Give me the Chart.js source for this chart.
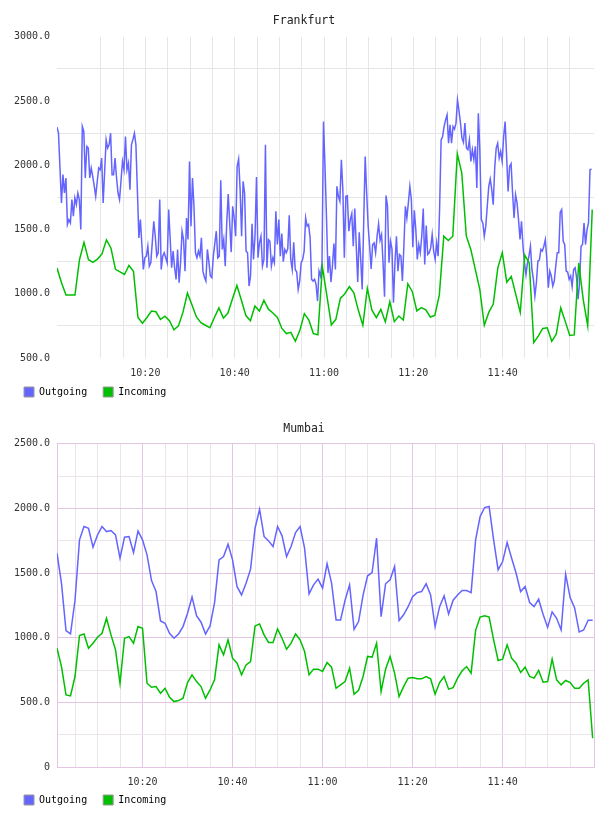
<!DOCTYPE html>
<html lang="en">
<head>
<meta charset="UTF-8">
<title>Traffic</title>
<style>
  body { margin: 0; background: #fff; }
  .box { position: absolute; left: 0; width: 608px; height: 416px; }
</style>
</head>
<body>
<div class="box" style="top:0"><canvas id="frankfurt" width="608" height="416"></canvas></div>
<div class="box" style="top:408px"><canvas id="mumbai" width="608" height="416"></canvas></div>
<script src="https://cdn.jsdelivr.net/npm/chart.js@4/dist/chart.umd.min.js"></script>
<script>
// times are minutes after 10:00
const frankfurtStart = 0.22;
const frankfurtEnd = 120.45;
const frankfurtOutStep = 1 / 3;   // 20 s samples
const frankfurtInStep = 1.007;

const frankfurtOut = [
  2297, 2250, 1980, 1707, 1927, 1784, 1901, 1539, 1577, 1551,
  1733, 1603, 1746, 1694, 1784, 1733, 1500, 2302, 2263, 1901,
  2147, 2134, 1901, 1978, 1914, 1840, 1758, 1870, 1978, 1965,
  2056, 1707, 1950, 2198, 2134, 2159, 2250, 1927, 1927, 2056,
  1901, 1784, 1733, 1880, 2030, 1965, 2224, 1965, 2017, 1810,
  2159, 2200, 2250, 2159, 1800, 1435, 1577, 1380, 1189, 1280,
  1293, 1370, 1215, 1241, 1400, 1564, 1448, 1293, 1319, 1733,
  1189, 1293, 1319, 1280, 1241, 1655, 1430, 1202, 1332, 1202,
  1112, 1345, 1086, 1241, 1487, 1422, 1176, 1590, 1422, 2030,

  1526, 1901, 1681, 1319, 1280, 1332, 1293, 1435, 1176, 1130,
  1099, 1345, 1250, 1138, 1125, 1293, 1390, 1487, 1280, 1293,
  1883, 1345, 1422, 1215, 1551, 1777, 1551, 1324, 1681, 1590,
  1448, 1991, 2048, 1810, 1448, 1875, 1784, 1332, 1319, 1060,
  1138, 1544, 1267, 1448, 1909, 1280, 1396, 1448, 1215, 1267,
  2159, 1202, 1422, 1409, 1215, 1280, 1241, 1642, 1383, 1577,
  1293, 1469, 1249, 1345, 1319, 1350, 1611, 1267, 1189, 1401,
  1189, 1169, 1034, 1099, 1241, 1267, 1332, 1590, 1526, 1539,
  1435, 1112, 1099, 1112, 1073, 943, 1176, 1138, 1241, 2340,

  1990, 1600, 1163, 1293, 1091, 1215, 1391, 1189, 1836, 1758,
  1720, 2043, 1810, 1280, 1758, 1764, 1487, 1577, 1624, 1370,
  1663, 1370, 1091, 1479, 1267, 1034, 1551, 2069, 1784, 1526,
  1370, 1194, 1383, 1396, 1319, 1448, 1544, 1417, 1461, 1241,
  977, 1764, 1681, 1241, 1409, 1350, 931, 1241, 1448, 1176,
  1306, 1293, 1099, 1370, 1681, 1590, 1707, 1836, 1733, 1363,
  1650, 1500, 1267, 1383, 1319, 1448, 1663, 1228, 1531, 1306,
  1319, 1357, 1461, 1332, 1267, 1396, 1293, 1668, 2198, 2224,
  2302, 2353, 2392, 2172, 2315, 2172, 2302, 2281, 2328, 2509,

  2426, 2328, 2211, 2178, 2328, 2134, 2121, 2198, 2030, 2121,
  2043, 2147, 1823, 2405, 2121, 1577, 1551, 1448, 1526, 1681,
  1836, 1893, 1810, 1694, 1978, 2134, 2172, 2056, 2108, 2030,
  2224, 2340, 2069, 1797, 1991, 2012, 1784, 1590, 1771, 1707,
  1577, 1422, 1564, 1370, 1241, 1150, 1241, 1293, 1370, 1189,
  1112, 983, 1086, 1254, 1262, 1345, 1332, 1370, 1422, 1267,
  1047, 1176, 1138, 1060, 1099, 1215, 1319, 1319, 1634, 1655,
  1409, 1383, 1176, 1169, 1112, 1138, 1055, 1189, 1202, 1125,
  957, 1086, 1370, 1383, 1551, 1383, 1500, 1551, 1965, 1971
];

const frankfurtIn = [
  1200, 1085, 990, 990, 990, 1265, 1400, 1265, 1245, 1270,
  1310, 1420, 1355, 1190, 1170, 1150, 1220, 1175, 815, 770,
  815, 865, 860, 800, 825, 790, 720, 750, 855, 1005,
  915, 820, 775, 755, 735, 815, 890, 810, 850, 960,
  1065, 950, 830, 790, 905, 865, 950, 880, 850, 815,
  730, 690, 700, 630, 715, 845, 795, 690, 680, 1210,
  985, 757, 801, 964, 1000, 1055, 1008, 871, 755, 1042,
  874, 814, 879, 781, 938, 783, 827, 796, 1078, 1016,
  866, 892, 874, 819, 832, 990, 1448, 1414, 1448, 2090,
  1940, 1450, 1345, 1190, 1035, 755, 855, 920, 1200, 1320,
  1090, 1135, 995, 855, 1300, 1240, 620, 670, 730, 735,
  630, 685, 890, 785, 675, 680, 1240, 955, 750, 1655
];

const mumbaiStart = 1.0;
const mumbaiEnd = 120.3;
const mumbaiStep = 1;

const mumbaiOut = [
  1654, 1420, 1055, 1029, 1290, 1757, 1860, 1847, 1700, 1795,
  1860, 1821, 1829, 1795, 1615, 1778, 1783, 1659, 1826, 1757,
  1641, 1442, 1357, 1130, 1112, 1034, 996, 1029, 1086, 1190,
  1315, 1170, 1120, 1029, 1091, 1270, 1602, 1628, 1723, 1602,
  1395, 1331, 1421, 1530, 1847, 1994, 1783, 1749, 1705, 1860,
  1788, 1628, 1705, 1814, 1860, 1693, 1340, 1409, 1453, 1384,
  1572, 1423, 1138, 1138, 1290, 1409, 1065, 1125, 1330, 1479,
  1504, 1770, 1163, 1417, 1448, 1551, 1133, 1177, 1240, 1318,
  1349, 1357, 1417, 1331, 1086, 1240, 1324, 1184, 1290, 1331,
  1365, 1365, 1349, 1757, 1937, 2007, 2015, 1757, 1525, 1589,
  1736, 1615, 1499, 1357, 1396, 1272, 1241, 1298, 1180, 1080,
  1200, 1150, 1060, 1490, 1310, 1230, 1045, 1060, 1135, 1135
];

const mumbaiIn = [
  919, 777, 558, 550, 700, 1017, 1029, 919, 958, 1004,
  1034, 1151, 1022, 906, 648, 996, 1009, 958, 1086, 1073,
  648, 617, 622, 571, 609, 540, 506, 514, 532, 653,
  713, 661, 622, 532, 596, 674, 945, 868, 984, 842,
  803, 713, 790, 816, 1091, 1107, 1022, 963, 963, 1068,
  996, 911, 958, 1029, 984, 893, 713, 757, 757, 739,
  808, 772, 609, 635, 661, 764, 563, 594, 700, 855,
  850, 958, 584, 757, 855, 726, 545, 622, 687, 692,
  682, 682, 700, 682, 563, 653, 700, 602, 614, 687,
  744, 777, 726, 1057, 1160, 1170, 1160, 984, 824, 834,
  945, 842, 803, 731, 772, 700, 687, 747, 656, 661,
  834, 674, 635, 669, 653, 609, 609, 648, 674, 222
];

const seriesNames = ['Outgoing', 'Incoming'];
const seriesColors = ['#6464ff', '#00bf00'];

const mono = "'DejaVu Sans Mono', monospace";
Chart.defaults.font.family = mono;

function points(values, start, step) {
  return values.map((v, i) => ({ x: start + i * step, y: v }));
}

function isMult(v, n) {
  return Math.abs(v / n - Math.round(v / n)) < 1e-6;
}

function clock(v) {
  const m = Math.round(v);
  return (10 + Math.floor(m / 60)) + ':' + String(m % 60).padStart(2, '0');
}

// legend sits a little closer to the axis labels and further left than chart.js puts it
const nudgeLegend = {
  id: 'nudgeLegend',
  afterLayout(chart) {
    const l = chart.legend;
    l.top -= 8; l.bottom -= 8;
    l.left -= 6; l.right -= 6;
  }
};

function makeChart(id, title, outData, inData, cfg) {
  const ctx = document.getElementById(id).getContext('2d');
  return new Chart(ctx, {
    type: 'line',
    plugins: [nudgeLegend],
    data: {
      datasets: [{
        label: seriesNames[0],
        data: outData,
        borderColor: seriesColors[0],
        backgroundColor: seriesColors[0],
        borderWidth: 1.5,
        pointRadius: 0,
        tension: 0,
        order: 1
      }, {
        label: seriesNames[1],
        data: inData,
        borderColor: seriesColors[1],
        backgroundColor: seriesColors[1],
        borderWidth: 1.5,
        pointRadius: 0,
        tension: 0,
        order: 0
      }]
    },
    options: {
      responsive: false,
      animation: false,
      devicePixelRatio: 1,
      layout: { padding: { left: 14, right: 14, top: 0, bottom: 1 } },
      plugins: {
        tooltip: { enabled: false },
        title: {
          display: true,
          text: title,
          color: '#222',
          font: { size: 11.5, weight: 'normal' },
          padding: { top: 14, bottom: cfg.titleGap }
        },
        legend: {
          position: 'bottom',
          align: 'start',
          labels: {
            boxWidth: 10,
            boxHeight: 10,
            padding: 16,
            color: '#111',
            font: { size: 10 },
            generateLabels: (chart) => chart.data.datasets.map((ds, i) => ({
              text: ds.label,
              fillStyle: ds.borderColor,
              strokeStyle: '#999',
              lineWidth: 1,
              hidden: false,
              datasetIndex: i
            }))
          }
        }
      },
      scales: {
        x: {
          type: 'linear',
          min: cfg.xMin,
          max: cfg.xMax,
          afterFit: (s) => { s.height = cfg.axisHeight; },
          border: cfg.border ? { display: true, color: cfg.pink, width: 1 } : { display: false },
          grid: {
            drawTicks: false,
            color: (c) => cfg.xGrid(c.tick.value)
          },
          ticks: {
            stepSize: 5,
            padding: 9,
            maxRotation: 0,
            autoSkip: false,
            color: '#333',
            font: { size: 10 },
            callback: (v) => isMult(v, 20) ? clock(v) : ''
          }
        },
        y: {
          min: cfg.yMin,
          max: cfg.yMax,
          afterFit: (s) => { s.width = 43; },
          border: cfg.border ? { display: true, color: cfg.pink, width: 1 } : { display: false },
          grid: {
            drawTicks: false,
            color: (c) => cfg.yGrid(c.tick.value)
          },
          ticks: {
            stepSize: 250,
            padding: 7,
            autoSkip: false,
            color: '#333',
            font: { size: 10 },
            callback: cfg.yLabel
          }
        }
      }
    }
  });
}

const lightGrey = '#e6e6e6';

makeChart('frankfurt', 'Frankfurt',
  points(frankfurtOut, frankfurtStart, frankfurtOutStep),
  points(frankfurtIn, frankfurtStart, frankfurtInStep),
  {
    xMin: frankfurtStart, xMax: frankfurtEnd, yMin: 500, yMax: 3000,
    border: false, titleGap: 9, axisHeight: 21,
    xGrid: (v) => isMult(v, 5) ? lightGrey : 'rgba(0,0,0,0)',
    yGrid: (v) => isMult(v, 500) ? 'rgba(0,0,0,0)' : lightGrey,
    yLabel: (v) => isMult(v, 500) ? v.toFixed(1) : ''
  });

const pink = '#e2c6e2';
const lightPink = '#ebe4eb';

makeChart('mumbai', 'Mumbai',
  points(mumbaiOut, mumbaiStart, mumbaiStep),
  points(mumbaiIn, mumbaiStart, mumbaiStep),
  {
    xMin: mumbaiStart, xMax: mumbaiEnd, yMin: 0, yMax: 2500,
    border: true, pink: pink, titleGap: 8, axisHeight: 20,
    xGrid: (v) => isMult(v, 20) ? pink : (isMult(v, 5) ? lightPink : pink),
    yGrid: (v) => isMult(v, 500) ? pink : lightPink,
    yLabel: (v) => isMult(v, 500) ? (v === 0 ? '0' : v.toFixed(1)) : ''
  });
</script>
</body>
</html>
